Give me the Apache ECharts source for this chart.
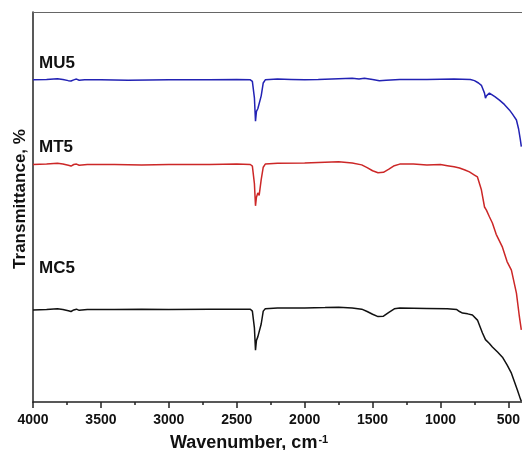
<!DOCTYPE html>
<html>
<head>
<meta charset="utf-8">
<script src="https://cdn.jsdelivr.net/npm/echarts@6/dist/echarts.min.js"></script>
<style>
html,body{margin:0;padding:0;background:#fff;}
#chart{width:522px;height:450px;}
</style>
</head>
<body>
<div id="chart"></div>
<script>
// Wavenumber (cm^-1), Transmittance (arbitrary, offset) pairs
var mu5 = [
  [4000, 82.6], [3900, 82.7], [3820, 82.9], [3780, 82.7], [3740, 82.4], [3720, 82.3],
  [3700, 82.6], [3680, 82.8], [3660, 82.5], [3620, 82.6], [3500, 82.6], [3300, 82.5],
  [3000, 82.6], [2700, 82.6], [2500, 82.7], [2400, 82.6], [2385, 82.2], [2370, 78.0],
  [2362, 72.0], [2355, 74.5], [2345, 75.2], [2335, 74.8], [2320, 78.5], [2305, 81.8],
  [2290, 82.6], [2200, 82.8], [2100, 82.7], [2000, 82.6], [1900, 82.7], [1750, 82.9],
  [1650, 83.0], [1600, 82.8], [1560, 83.0], [1500, 82.7], [1450, 82.4], [1400, 82.5],
  [1300, 82.7], [1100, 82.7], [900, 82.8], [780, 82.7], [750, 82.4], [720, 81.8],
  [699, 81.2], [676, 79.2], [669, 77.9], [662, 78.5], [640, 79.2], [600, 78.3],
  [566, 77.4], [530, 76.3], [493, 74.9], [470, 73.8], [441, 72.3], [425, 70.0],
  [412, 67.2], [405, 65.5]
];
var mt5 = [
  [4000, 60.9], [3900, 61.0], [3820, 61.2], [3780, 61.0], [3740, 60.7], [3720, 60.5],
  [3700, 60.9], [3680, 61.0], [3660, 60.7], [3600, 60.9], [3400, 60.9], [3200, 60.8],
  [3000, 60.9], [2700, 60.9], [2500, 61.0], [2400, 60.9], [2385, 60.5], [2370, 56.0],
  [2362, 50.3], [2355, 52.5], [2345, 53.6], [2335, 53.0], [2320, 57.0], [2305, 60.2],
  [2290, 61.0], [2200, 61.2], [2000, 61.3], [1850, 61.5], [1750, 61.6], [1650, 61.3],
  [1580, 60.8], [1540, 60.1], [1500, 59.3], [1460, 58.8], [1420, 58.9], [1380, 59.7],
  [1340, 60.6], [1300, 61.0], [1200, 61.0], [1100, 60.8], [1000, 60.9], [950, 60.6],
  [900, 60.3], [860, 60.0], [820, 59.5], [787, 59.0], [750, 58.2], [728, 57.7],
  [699, 54.4], [676, 50.0], [662, 49.2], [640, 47.5], [618, 45.9], [590, 43.0],
  [544, 39.7], [510, 36.0], [478, 33.8], [441, 27.9], [419, 21.8], [405, 18.5]
];
var mc5 = [
  [4000, 23.6], [3900, 23.7], [3820, 23.9], [3780, 23.7], [3740, 23.4], [3720, 23.2],
  [3700, 23.6], [3680, 23.8], [3660, 23.5], [3600, 23.7], [3400, 23.7], [3200, 23.8],
  [3000, 23.7], [2700, 23.8], [2500, 23.8], [2400, 23.8], [2385, 23.3], [2370, 19.0],
  [2362, 13.3], [2355, 15.8], [2345, 16.7], [2335, 16.2], [2320, 20.0], [2305, 23.3],
  [2290, 23.9], [2200, 24.1], [2000, 24.1], [1850, 24.2], [1750, 24.3], [1650, 24.1],
  [1580, 23.8], [1540, 23.2], [1500, 22.5], [1460, 21.9], [1420, 22.0], [1380, 23.0],
  [1340, 23.9], [1300, 24.1], [1100, 24.0], [950, 23.9], [880, 23.7], [860, 23.2],
  [838, 22.8], [800, 22.6], [765, 22.3], [728, 21.0], [691, 17.7], [669, 16.0],
  [662, 16.5], [640, 15.0], [618, 14.1], [580, 12.8], [544, 11.5], [510, 9.5],
  [478, 7.4], [434, 3.1], [412, 0.8], [405, 0.2]
];
var seriesNames = ['MU5', 'MT5', 'MC5'];
var majorTicks = [4000, 3500, 3000, 2500, 2000, 1500, 1000, 500];
var minorTicks = [3750, 3250, 2750, 2250, 1750, 1250, 750];

var FONT = '"Liberation Sans", Arial, Helvetica, sans-serif';
var chart = echarts.init(document.getElementById('chart'), null, {renderer: 'canvas'});
var option = {
  backgroundColor: '#fff',
  animation: false,
  grid: {left: 33, top: 12, right: 0, bottom: 48, containLabel: false, outerBoundsMode: 'none'},
  xAxis: [
    {
      type: 'value', min: 400, max: 4000, inverse: true, position: 'bottom',
      axisLine: {show: true, lineStyle: {color: '#222', width: 1.5}},
      axisTick: {show: true, customValues: majorTicks, length: 6, inside: false,
                 lineStyle: {color: '#222', width: 1.5}},
      axisLabel: {show: true, customValues: majorTicks, margin: 11, hideOverlap: false,
                  formatter: function (v) { return String(v); },
                  color: '#111', fontFamily: FONT, fontWeight: 'bold', fontSize: 14},
      splitLine: {show: false}
    },
    {
      type: 'value', min: 400, max: 4000, inverse: true, position: 'bottom', gridIndex: 0,
      axisLine: {show: false},
      axisTick: {show: true, customValues: minorTicks, length: 3,
                 lineStyle: {color: '#222', width: 1.5}},
      axisLabel: {show: false},
      splitLine: {show: false}
    },
    {
      type: 'value', min: 400, max: 4000, inverse: true, position: 'top',
      axisLine: {show: true, lineStyle: {color: '#666', width: 1}},
      axisTick: {show: false}, axisLabel: {show: false}, splitLine: {show: false}
    }
  ],
  yAxis: {
    type: 'value', min: 0, max: 100,
    axisLine: {show: true, lineStyle: {color: '#222', width: 1.5}},
    axisTick: {show: false}, axisLabel: {show: false}, splitLine: {show: false}
  },
  series: [
    {name: seriesNames[0], type: 'line', data: mu5, showSymbol: false, symbol: 'none',
     lineStyle: {color: '#2222b4', width: 1.5}, itemStyle: {color: '#2222b4'}},
    {name: seriesNames[1], type: 'line', data: mt5, showSymbol: false, symbol: 'none',
     lineStyle: {color: '#cc2727', width: 1.5}, itemStyle: {color: '#cc2727'}},
    {name: seriesNames[2], type: 'line', data: mc5, showSymbol: false, symbol: 'none',
     lineStyle: {color: '#111', width: 1.5}, itemStyle: {color: '#111'}}
  ],
  graphic: [
    {type: 'text', x: 39, y: 63, style: {text: seriesNames[0], font: 'bold 17px ' + FONT, fill: '#111', verticalAlign: 'middle', align: 'left'}},
    {type: 'text', x: 39, y: 147, style: {text: seriesNames[1], font: 'bold 17px ' + FONT, fill: '#111', verticalAlign: 'middle', align: 'left'}},
    {type: 'text', x: 39, y: 268, style: {text: seriesNames[2], font: 'bold 17px ' + FONT, fill: '#111', verticalAlign: 'middle', align: 'left'}},
    {type: 'text', x: 20, y: 199, rotation: Math.PI / 2,
     style: {text: 'Transmittance, %', font: 'bold 17px ' + FONT, fill: '#111', align: 'center', verticalAlign: 'middle'}},
    {type: 'text', x: 170, y: 434,
     style: {text: 'Wavenumber, cm{s|-1}', font: 'bold 18px ' + FONT, fill: '#111',
             rich: {s: {fontSize: 11, fontWeight: 'bold', fontFamily: FONT, fill: '#111', color: '#111', verticalAlign: 'top', padding: [0, 0, 8, 1]}}}}
  ]
};
chart.setOption(option);
</script>
</body>
</html>
